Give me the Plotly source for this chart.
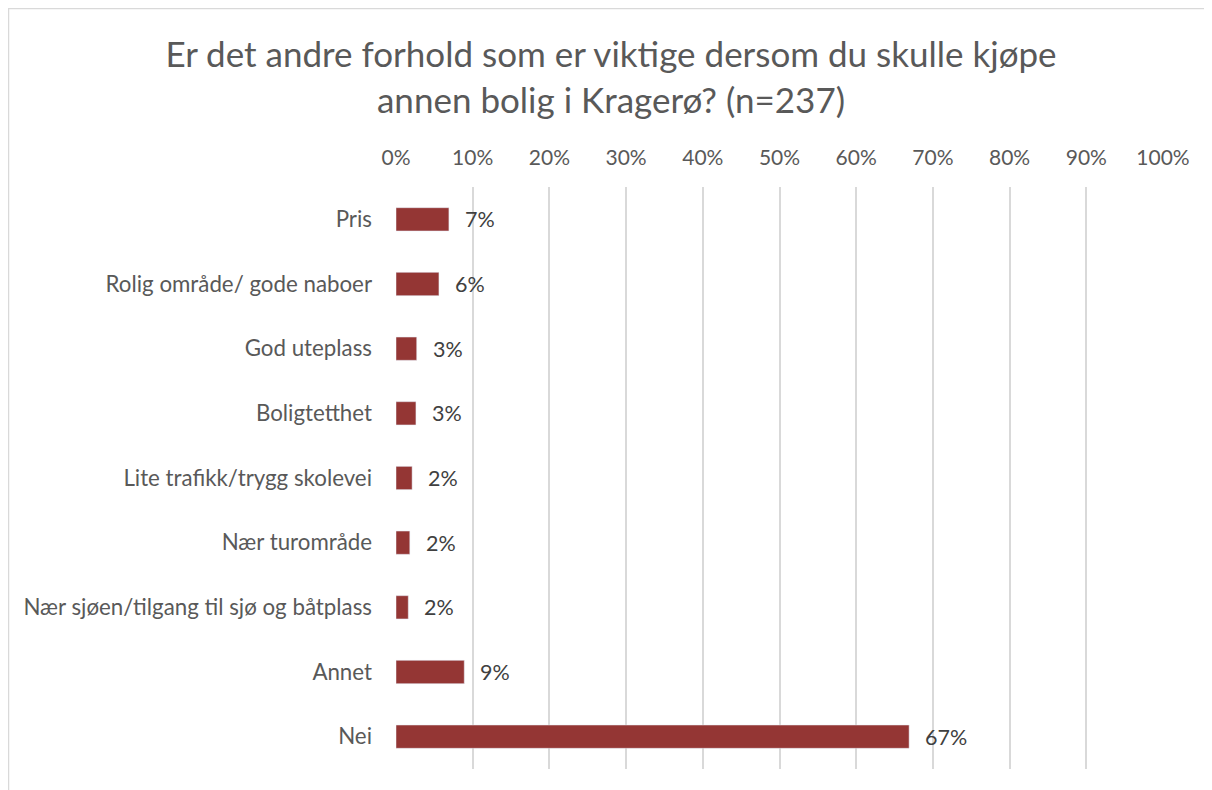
import plotly.graph_objects as go

categories = ["Pris", "Rolig område/ gode naboer", "God uteplass", "Boligtetthet",
              "Lite trafikk/trygg skolevei", "Nær turområde",
              "Nær sjøen/tilgang til sjø og båtplass", "Annet", "Nei"]
values = [0.069, 0.056, 0.027, 0.026, 0.021, 0.018, 0.016, 0.089, 0.669]
labels = ["7%", "6%", "3%", "3%", "2%", "2%", "2%", "9%", "67%"]
x_ticks = [i / 10 for i in range(11)]
x_tick_labels = [f"{i*10}%" for i in range(11)]

# page offset of the figure (browser body margin) is 8px
OFF = 8
W, H = 1204, 782
PL, PR, PT, PB = 396, 1163, 187, 769  # plot area in page pixels
L, T = PL - OFF, PT - OFF
R, B = (OFF + W) - PR, (OFF + H) - PB
pw, ph = PR - PL, PB - PT

FONT = "Lato, sans-serif"

fig = go.Figure(go.Bar(
    y=categories, x=values, orientation="h",
    marker=dict(color="#943634"), width=0.36,
    hoverinfo="skip",
))

for c, v, t in zip(categories, values, labels):
    fig.add_annotation(x=v, y=c, text=t, showarrow=False, xanchor="left",
                       xshift=14, font=dict(size=21.5, color="#404040", family=FONT))

def px_x(p):
    return (p - PL) / pw

def px_y(p):
    return (PB - p) / ph

# top and left border lines of the chart frame
fig.add_shape(type="line", xref="paper", yref="paper",
              x0=px_x(8), x1=px_x(1212), y0=px_y(8.5), y1=px_y(8.5),
              line=dict(color="#d9d9d9", width=1.5))
fig.add_shape(type="line", xref="paper", yref="paper",
              x0=px_x(8.5), x1=px_x(8.5), y0=px_y(790), y1=px_y(8),
              line=dict(color="#d9d9d9", width=1.5))

fig.update_layout(
    width=W, height=H,
    margin=dict(l=L, r=R, t=T, b=B, autoexpand=False),
    paper_bgcolor="white", plot_bgcolor="white",
    font=dict(family=FONT, color="#595959"),
    title=dict(text="Er det andre forhold som er viktige dersom du skulle kjøpe<br>annen bolig i Kragerø? (n=237)",
               x=(611 - OFF) / W, xref="container", xanchor="center",
               y=1 - (67 - OFF) / H, yref="container",
               yanchor="middle", font=dict(size=35, color="#595959", family=FONT)),
    showlegend=False,
    xaxis=dict(side="top", range=[0, 1], tickvals=x_ticks, ticktext=x_tick_labels,
               showgrid=True, gridcolor="#d9d9d9", gridwidth=1.5, zeroline=False,
               showline=False, ticks="", tickfont=dict(size=21, color="#595959"),
               ticklabelstandoff=17, fixedrange=True),
    yaxis=dict(autorange="reversed", showgrid=False, zeroline=False, showline=False,
               ticks="", tickfont=dict(size=22.3, color="#595959"),
               ticklabelstandoff=23, fixedrange=True),
    bargap=0.64,
)

fig.write_html("out.html")
